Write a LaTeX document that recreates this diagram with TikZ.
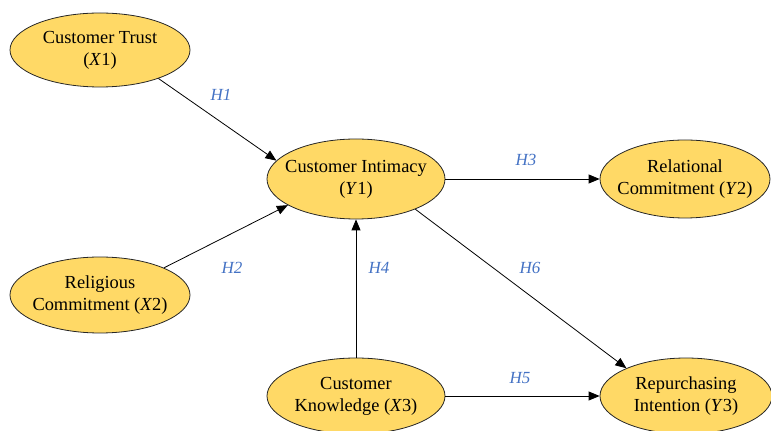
\documentclass[tikz,border=0pt]{standalone}
\usepackage{fontspec}
\setmainfont{Liberation Serif}
\usetikzlibrary{shapes.geometric,arrows.meta}
\definecolor{varfill}{HTML}{FFD966}
\definecolor{hypblue}{HTML}{4472C4}
\tikzset{
  var/.style={ellipse, draw=black!85, fill=varfill, line width=0.8pt,
    inner xsep=-17pt, inner ysep=0pt, minimum width=178pt, minimum height=76pt,
    align=center, font=\fontsize{18.4}{22}\selectfont},
  link/.style={line width=0.8pt, -{Triangle[length=11pt,width=9pt]}},
  hyp/.style={text=hypblue, font=\fontsize{17}{20}\selectfont\itshape}
}
\begin{document}
\begin{tikzpicture}[x=1pt,y=1pt]
    \useasboundingbox (0,0) rectangle (771,431);
    % constructs
    \node[var, minimum width=180pt, minimum height=74pt] (x1) at (100,381) {Customer Trust\\(\textit{X}1)};
    \node[var, minimum width=180pt] (x2) at (100,136) {Religious\\Commitment (\textit{X}2)};
    \node[var, minimum height=80pt] (y1) at (356,252) {Customer Intimacy\\(\textit{Y}1)};
    \node[var, minimum width=170pt, minimum height=78pt] (y2) at (685,252) {Relational\\Commitment (\textit{Y}2)};
    \node[var] (x3) at (356,35) {Customer\\Knowledge (\textit{X}3)};
    \node[var, minimum width=172pt] (y3) at (686,35) {Repurchasing\\Intention (\textit{Y}3)};
    % hypotheses
    \begin{scope}
      \draw[link] (x1.-26) -- (y1.167);
      \draw[link] (x2.23) -- (y1.201);
      \draw[link] (y1.east) -- (y2.west);
      \draw[link] (x3.north) -- (y1.south);
      \draw[link] (x3.east) -- (y3.west);
      \draw[link] (y1.-27) -- (y3.155);
    \end{scope}
    \node[hyp] (h1) at (221,336) {H1};
    \node[hyp] (h2) at (232,163) {H2};
    \node[hyp] (h3) at (526,271) {H3};
    \node[hyp] (h4) at (379,163) {H4};
    \node[hyp] (h5) at (520,53) {H5};
    \node[hyp] (h6) at (530,163) {H6};
\end{tikzpicture}
\end{document}
